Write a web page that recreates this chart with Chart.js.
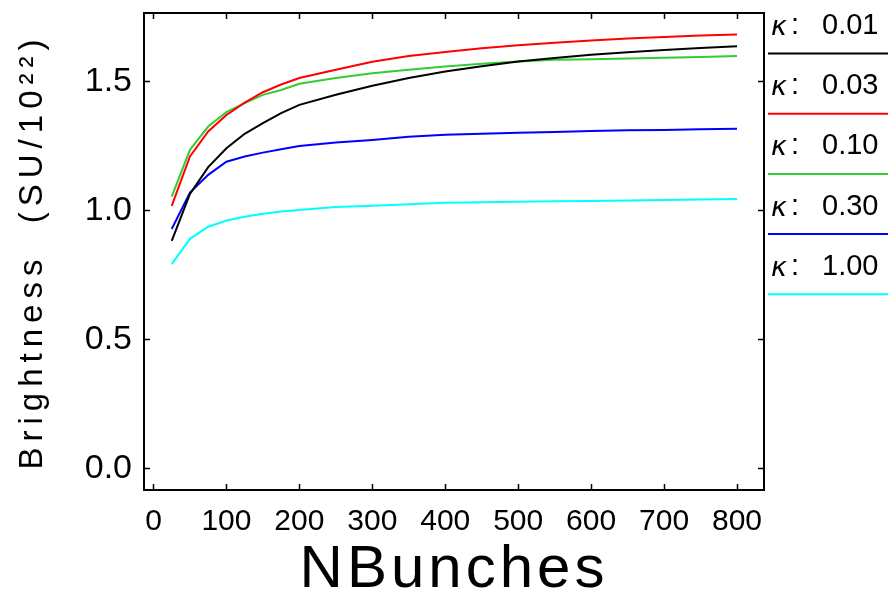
<!DOCTYPE html>
<html>
<head>
<meta charset="utf-8">
<script src="https://cdn.jsdelivr.net/npm/chart.js@4/dist/chart.umd.min.js"></script>
<style>
  html, body { margin: 0; padding: 0; background: #ffffff; }
  #wrap { width: 888px; height: 592px; }
</style>
</head>
<body>
<div id="wrap"><canvas id="c" width="888" height="592"></canvas></div>
<script>
// ---- data ----
const nBunches = [25, 50, 75, 100, 125, 150, 175, 200, 250, 300, 350, 400, 450, 500, 550, 600, 650, 700, 750, 800];
const kappa001 = [0.881, 1.063, 1.167, 1.240, 1.296, 1.337, 1.376, 1.408, 1.447, 1.482, 1.512, 1.537, 1.558, 1.576, 1.590, 1.602, 1.612, 1.621, 1.628, 1.635];
const kappa003 = [1.017, 1.208, 1.305, 1.369, 1.417, 1.457, 1.487, 1.512, 1.544, 1.575, 1.597, 1.613, 1.627, 1.639, 1.649, 1.657, 1.665, 1.671, 1.677, 1.681];
const kappa010 = [1.053, 1.234, 1.324, 1.380, 1.415, 1.447, 1.466, 1.490, 1.512, 1.531, 1.544, 1.557, 1.567, 1.576, 1.583, 1.585, 1.588, 1.591, 1.594, 1.597];
const kappa030 = [0.927, 1.068, 1.137, 1.188, 1.208, 1.223, 1.236, 1.249, 1.262, 1.272, 1.285, 1.292, 1.296, 1.300, 1.303, 1.307, 1.310, 1.311, 1.314, 1.316];
const kappa100 = [0.791, 0.889, 0.936, 0.960, 0.975, 0.986, 0.995, 1.001, 1.012, 1.017, 1.023, 1.029, 1.031, 1.033, 1.035, 1.036, 1.038, 1.040, 1.041, 1.043];

const kappaLabels = ['0.01', '0.03', '0.10', '0.30', '1.00'];
const seriesValues = [kappa001, kappa003, kappa010, kappa030, kappa100];
const seriesColors = ['#000000', '#ff0000', '#33cc33', '#0000ff', '#00ffff'];

const xTicks = [0, 100, 200, 300, 400, 500, 600, 700, 800];
const yTicks = [0.0, 0.5, 1.0, 1.5];
const xTitle = 'NBunches';
const yTitle = 'Brightness  (SU/10²²)';

// ---- plugins ----
const spacingPlugin = {
  id: 'spacing',
  beforeDraw(chart) {
    const ctx = chart.ctx;
    const wrap = (scale, name, sp) => {
      const orig = scale[name];
      scale[name] = function (...args) {
        const prev = ctx.letterSpacing;
        ctx.letterSpacing = sp;
        try { return orig.apply(this, args); } finally { ctx.letterSpacing = prev || '0px'; }
      };
    };
    const sx = chart.scales.x, sy = chart.scales.y;
    if (!sx._spPatched) { wrap(sx, 'drawTitle', '4px'); sx._spPatched = true; }
    if (!sy._spPatched) { wrap(sy, 'drawTitle', '6px'); sy._spPatched = true; }
  }
};

const framePlugin = {
  id: 'frame',
  afterDatasetsDraw(chart) {
    const ctx = chart.ctx;
    const a = chart.chartArea;
    const sx = chart.scales.x, sy = chart.scales.y;
    const tl = 6;
    ctx.save();
    ctx.strokeStyle = '#000';
    ctx.lineWidth = 2;
    ctx.strokeRect(a.left, a.top, a.right - a.left, a.bottom - a.top);
    ctx.lineWidth = 1.5;
    ctx.beginPath();
    xTicks.forEach(v => {
      const px = Math.round(sx.getPixelForValue(v)) + 0.5;
      ctx.moveTo(px, a.bottom); ctx.lineTo(px, a.bottom - tl);
      ctx.moveTo(px, a.top); ctx.lineTo(px, a.top + tl);
    });
    yTicks.forEach(v => {
      const py = Math.round(sy.getPixelForValue(v)) + 0.5;
      ctx.moveTo(a.left, py); ctx.lineTo(a.left + tl, py);
      ctx.moveTo(a.right, py); ctx.lineTo(a.right - tl, py);
    });
    ctx.stroke();
    ctx.restore();
  }
};

const legendPlugin = {
  id: 'sideLegend',
  afterDraw(chart) {
    const ctx = chart.ctx;
    ctx.save();
    chart.data.datasets.forEach((ds, i) => {
      const ty = 26 + 60.2 * i;
      const ly = 53.5 + 60.2 * i;
      ctx.fillStyle = '#000';
      ctx.textBaseline = 'middle';
      ctx.textAlign = 'left';
      ctx.font = 'italic 27px "DejaVu Sans"';
      ctx.fillText('κ', 771, ty + 2);
      ctx.font = '29px "Liberation Sans"';
      ctx.fillText(':', 791, ty);
      ctx.fillText(kappaLabels[i], 822, ty);
      ctx.strokeStyle = ds.borderColor;
      ctx.lineWidth = 2;
      ctx.beginPath();
      ctx.moveTo(768, ly);
      ctx.lineTo(888, ly);
      ctx.stroke();
    });
    ctx.restore();
  }
};

const datasets = seriesValues.map((vals, i) => ({
  label: 'κ: ' + kappaLabels[i],
  data: nBunches.map((n, j) => ({ x: n, y: vals[j] })),
  borderColor: seriesColors[i],
  backgroundColor: seriesColors[i],
  borderWidth: 2,
  pointRadius: 0,
  tension: 0,
  fill: false
}));

new Chart(document.getElementById('c'), {
  type: 'line',
  data: { datasets },
  options: {
    responsive: false,
    animation: false,
    devicePixelRatio: 1,
    layout: { padding: { top: 13, right: 124, left: 0, bottom: 0 } },
    plugins: { legend: { display: false }, tooltip: { enabled: false } },
    scales: {
      x: {
        type: 'linear',
        min: -13,
        max: 837,
        afterFit(s) { s.height = 102; s.paddingLeft = 0; s.paddingRight = 0; },
        afterBuildTicks(s) { s.ticks = xTicks.map(v => ({ value: v })); },
        grid: { display: false, drawTicks: false },
        border: { display: false },
        ticks: {
          color: '#000',
          font: { family: 'Liberation Sans', size: 30 },
          padding: 14,
          maxRotation: 0,
          autoSkip: false,
          callback: v => String(v)
        },
        title: {
          display: true,
          text: xTitle,
          color: '#000',
          font: { family: 'Liberation Sans', size: 60, lineHeight: 1 },
          padding: { top: 0, bottom: -8 }
        }
      },
      y: {
        type: 'linear',
        min: -0.084,
        max: 1.764,
        afterFit(s) { s.width = 144; s.paddingTop = 0; s.paddingBottom = 0; },
        afterBuildTicks(s) { s.ticks = yTicks.map(v => ({ value: v })); },
        grid: { display: false, drawTicks: false },
        border: { display: false },
        ticks: {
          color: '#000',
          font: { family: 'Liberation Sans', size: 34 },
          padding: 12,
          autoSkip: false,
          callback: v => Number(v).toFixed(1)
        },
        title: {
          display: true,
          text: yTitle,
          color: '#000',
          font: { family: 'Liberation Sans', size: 33, lineHeight: 1 },
          padding: { top: 16, bottom: 0 }
        }
      }
    }
  },
  plugins: [spacingPlugin, framePlugin, legendPlugin]
});
</script>
</body>
</html>
